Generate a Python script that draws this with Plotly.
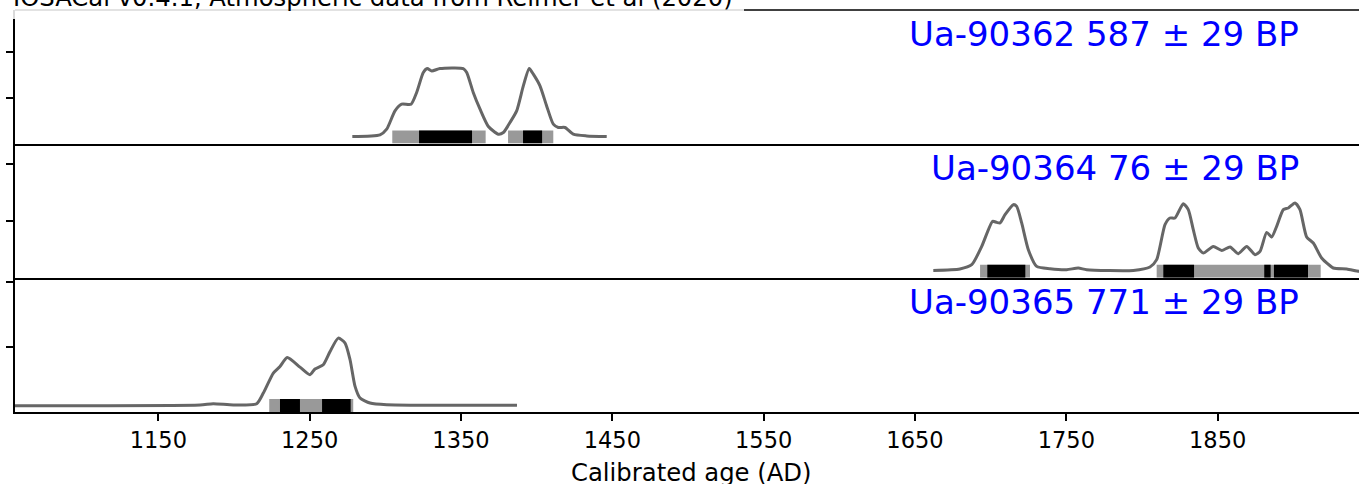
import plotly.graph_objects as go

# ---------------- data ----------------
title_text = "IOSACal v0.4.1, Atmospheric data from Reimer et al (2020)"
axis_title = "Calibrated age (AD)"
sample_labels = ["Ua-90362 587 ± 29 BP", "Ua-90364 76 ± 29 BP", "Ua-90365 771 ± 29 BP"]
x_ticks = [1150, 1250, 1350, 1450, 1550, 1650, 1750, 1850]
x_range = [1055.3, 1943.4]

# calibrated probability curves (relative density, one unit = one y tick)
top_years = [1278.2, 1296.5, 1300.9, 1306.4, 1310.8, 1317.0, 1320.7, 1325.1, 1327.7, 1330.7,
             1336.1, 1351.5, 1353.8, 1358.1, 1362.6, 1368.1, 1374.7, 1378.0, 1382.4, 1386.8,
             1391.2, 1395.1, 1397.8, 1402.2, 1406.6, 1411.0, 1414.3, 1418.7, 1424.2, 1433.1, 1446.3]
top_dens = [0.152, 0.187, 0.311, 0.709, 0.854, 0.854, 1.109, 1.543, 1.630, 1.578,
            1.630, 1.630, 1.543, 1.109, 0.746, 0.370, 0.202, 0.239, 0.457, 0.709,
            1.252, 1.630, 1.507, 1.252, 0.817, 0.420, 0.348, 0.348, 0.202, 0.165, 0.152]

mid_years = [1662.1, 1679.7, 1687.5, 1694.1, 1701.3, 1704.0, 1706.2, 1709.5, 1715.0, 1717.2,
             1720.5, 1724.9, 1730.4, 1739.2, 1750.2, 1757.9, 1763.4, 1794.3, 1805.3, 1809.7,
             1815.2, 1818.5, 1821.8, 1827.3, 1830.6, 1833.9, 1837.2, 1840.5, 1847.1, 1852.7,
             1858.2, 1863.6, 1869.2, 1874.7, 1878.0, 1882.4, 1885.7, 1889.0, 1893.4, 1896.7,
             1901.1, 1904.4, 1908.8, 1913.2, 1918.7, 1926.4, 1935.3, 1943.4, 1950.0]
mid_dens = [0.128, 0.153, 0.228, 0.549, 0.988, 0.970, 0.960, 1.105, 1.281, 1.251,
            0.960, 0.491, 0.198, 0.158, 0.140, 0.170, 0.140, 0.128, 0.188, 0.316,
            0.930, 1.047, 1.047, 1.298, 1.193, 0.842, 0.521, 0.433, 0.549, 0.479,
            0.539, 0.421, 0.549, 0.404, 0.461, 0.795, 0.714, 0.900, 1.193, 1.223,
            1.311, 1.193, 0.714, 0.608, 0.346, 0.170, 0.153, 0.111, 0.100]

bot_years = [1000.0, 1055.3, 1177.6, 1186.3, 1199.6, 1215.0, 1219.4, 1226.0, 1230.4, 1235.2,
             1243.6, 1250.2, 1253.5, 1259.0, 1263.5, 1268.9, 1273.4, 1276.7, 1280.0, 1283.3,
             1289.9, 1300.9, 1387.0]
bot_dens = [0.097, 0.097, 0.108, 0.128, 0.108, 0.128, 0.292, 0.600, 0.702, 0.840,
            0.692, 0.574, 0.662, 0.728, 0.932, 1.138, 1.062, 0.805, 0.394, 0.215,
            0.138, 0.112, 0.105]

# highest density ranges: 95% (grey) and 68% (black)
top_95 = [(1304.6, 1366.3), (1381.1, 1411.0)]
top_68 = [(1322.3, 1357.3), (1391.0, 1403.6)]
mid_95 = [(1693.0, 1726.0), (1809.7, 1918.1)]
mid_68 = [(1697.8, 1722.9), (1814.1, 1834.4), (1880.8, 1885.0), (1887.2, 1909.7)]
bot_95 = [(1223.3, 1278.8)]
bot_68 = [(1230.4, 1243.6), (1258.2, 1277.1)]

# y-axis scale per panel (upper limit in density units) and bar height
y_tops = [2.902, 2.354, 2.069]
bar_heights = [0.283, 0.228, 0.200]
y_tickvals = [1, 2]

# ---------------- figure ----------------
W, H = 1359, 484
ML, MR, MT, MB = 15, 0, 10, 72
domains = [[0.6679, 1.0], [0.3341, 0.6679], [0.0, 0.3341]]

FONT = "DejaVu Sans"
CURVE = "#666666"
GREY = "#999999"

fig = go.Figure()

panels = [
    (top_years, top_dens, top_95, top_68),
    (mid_years, mid_dens, mid_95, mid_68),
    (bot_years, bot_dens, bot_95, bot_68),
]

for i, (yrs, dens, r95, r68) in enumerate(panels):
    xa = "x" if i == 0 else f"x{i+1}"
    ya = "y" if i == 0 else f"y{i+1}"
    bh = bar_heights[i]
    for ranges, col in ((r95, GREY), (r68, "black")):
        for a, b in ranges:
            fig.add_trace(go.Scatter(
                x=[a, b, b, a, a], y=[0, 0, bh, bh, 0],
                mode="lines", fill="toself", fillcolor=col,
                line=dict(width=0, color=col), hoverinfo="skip",
                showlegend=False, xaxis=xa, yaxis=ya))
    fig.add_trace(go.Scatter(
        x=yrs, y=dens, mode="lines",
        line=dict(color=CURVE, width=3, shape="spline", smoothing=0.6),
        showlegend=False, xaxis=xa, yaxis=ya))

layout = dict(
    width=W, height=H,
    margin=dict(l=ML, r=MR, t=MT, b=MB),
    plot_bgcolor="white", paper_bgcolor="white",
    font=dict(family=FONT, color="black"),
)

for i in range(3):
    xk = "xaxis" if i == 0 else f"xaxis{i+1}"
    yk = "yaxis" if i == 0 else f"yaxis{i+1}"
    ya = "y" if i == 0 else f"y{i+1}"
    xd = dict(range=x_range, domain=[0, 1], anchor=ya, showgrid=False, zeroline=False,
              showline=True, linecolor="black", linewidth=1.5)
    if i > 0:
        xd["matches"] = "x"
    if i == 2:
        xd.update(tickmode="array", tickvals=x_ticks, ticktext=[str(t) for t in x_ticks],
                  ticks="outside", ticklen=7, tickwidth=1.5, tickcolor="black",
                  tickfont=dict(size=22.5, family=FONT, color="black"))
    else:
        xd.update(showticklabels=False, ticks="")
    layout[xk] = xd
    layout[yk] = dict(range=[0, y_tops[i]], domain=domains[i], anchor="x" if i == 0 else f"x{i+1}",
                      showgrid=False, zeroline=False, showline=True, linecolor="black",
                      linewidth=1.5, tickmode="array", tickvals=y_tickvals,
                      showticklabels=False, ticks="outside", ticklen=7, tickwidth=1.5,
                      tickcolor="black")

fig.update_layout(**layout)

plot_w = W - ML - MR
plot_h = H - MT - MB

def px_x(px):
    return (px - ML) / plot_w

def px_y(py):
    return (H - MB - py) / plot_h

# top spine of the first panel
fig.add_shape(type="line", xref="paper", yref="paper", x0=0, x1=1, y0=1, y1=1,
              line=dict(color="black", width=1.5), layer="above")
# semi-transparent title box covering the top spine
fig.add_shape(type="rect", xref="paper", yref="paper",
              x0=px_x(10), x1=px_x(744), y0=px_y(19), y1=px_y(-20),
              fillcolor="rgba(255,255,255,0.85)", line=dict(width=0), layer="above")

fig.add_annotation(text=title_text, xref="paper", yref="paper",
                   x=px_x(11), y=px_y(14), xanchor="left", yanchor="bottom",
                   showarrow=False, font=dict(size=24.3, family=FONT, color="black"))

# x-axis title
fig.add_annotation(text=axis_title, xref="paper", yref="paper",
                   x=px_x(691), y=px_y(472), xanchor="center", yanchor="middle",
                   showarrow=False, font=dict(size=24.3, family=FONT, color="black"))

label_centers = [34, 168, 302]
for lab, cy in zip(sample_labels, label_centers):
    fig.add_annotation(text=lab, xref="paper", yref="paper",
                       x=px_x(1301), y=px_y(cy), xanchor="right", yanchor="middle",
                       showarrow=False, font=dict(size=34, family=FONT, color="blue"))

fig.write_html("out.html", config={"displayModeBar": False},
               post_script="document.body.style.margin='0';")
